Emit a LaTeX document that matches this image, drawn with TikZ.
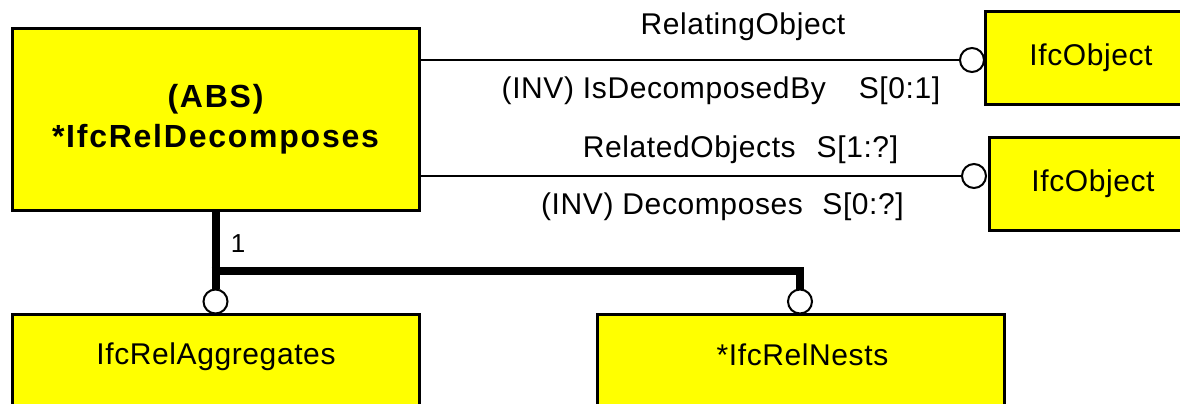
\documentclass[tikz,border=0pt]{standalone}
\usepackage{fontspec}
\setmainfont{Liberation Sans}[LetterSpace=2]
\newfontfamily\boldwide{Liberation Sans Bold}[LetterSpace=5.5]
\definecolor{entyellow}{HTML}{FFFF00}
\begin{document}
\begin{tikzpicture}[x=1pt,y=-1pt,
  ent/.style={draw=black, line width=3pt, fill=entyellow, inner sep=0pt},
  entfont/.style={font=\fontsize{30}{36}\selectfont},
  circ/.style={circle, draw=black, fill=white, line width=2pt, minimum size=24pt, inner sep=0pt},
  rel/.style={line width=2pt},
  sub/.style={line width=8pt, line join=miter},
  lbl/.style={font=\fontsize{30}{36}\selectfont, inner sep=0pt, anchor=base},
  card/.style={font=\fontsize{26}{30}\selectfont, inner sep=0pt, anchor=base}
]
\useasboundingbox (0,0) rectangle (1180,404);
\clip (0,0) rectangle (1180,404);
\fill[white] (0,0) rectangle (1180,404);

% entity boxes
\node[ent, minimum width=407pt, minimum height=182pt, align=center,
      font=\boldwide\fontsize{32}{40}\selectfont] (main) at (215.5,119.5)
      {(ABS)\\*IfcRelDecomposes};
\node[ent, entfont, minimum width=212pt, minimum height=92pt] (o1) at (1091,58) {IfcObject};
\node[ent, entfont, minimum width=208pt, minimum height=93pt] (o2) at (1093,183.5) {IfcObject};
\node[ent, minimum width=407pt, minimum height=110pt, anchor=north] (agg) at (215.5,313) {};
\node[ent, minimum width=407pt, minimum height=110pt, anchor=north] (nest) at (800.5,313) {};
\node[lbl] (aggt) at (216,364) {IfcRelAggregates};
\node[lbl] (nestt) at (802.5,365) {*IfcRelNests};

% circles
\node[circ] (c1) at (972,60) {};
\node[circ] (c2) at (974,176) {};
\node[circ] (c3) at (215.5,301.5) {};
\node[circ] (c4) at (800,301.5) {};

% relationship lines
\draw[rel] (main.east |- c1) -- (c1.west);
\draw[rel] (main.east |- c2) -- (c2.west);

% supertype tree
\coordinate (j) at (215.5,271);
\coordinate (k) at (800,271);
\draw[sub] (main.south) -- (c3.north);
\draw[sub] ([xshift=-4pt]j) -- (k) -- (c4.north);

% labels
\node[lbl] (l1) at (743,35) {RelatingObject};
\node[lbl] (l2) at (721,99) {(INV) IsDecomposedBy\hspace{1.1em}S[0:1]};
\node[lbl] (l3) at (740.5,157) {RelatedObjects\hspace{0.7em}S[1:?]};
\node[lbl] (l4) at (722.5,214) {(INV) Decomposes\hspace{0.65em}S[0:?]};
\node[card] (n1) at (238,252) {1};
\end{tikzpicture}
\end{document}
